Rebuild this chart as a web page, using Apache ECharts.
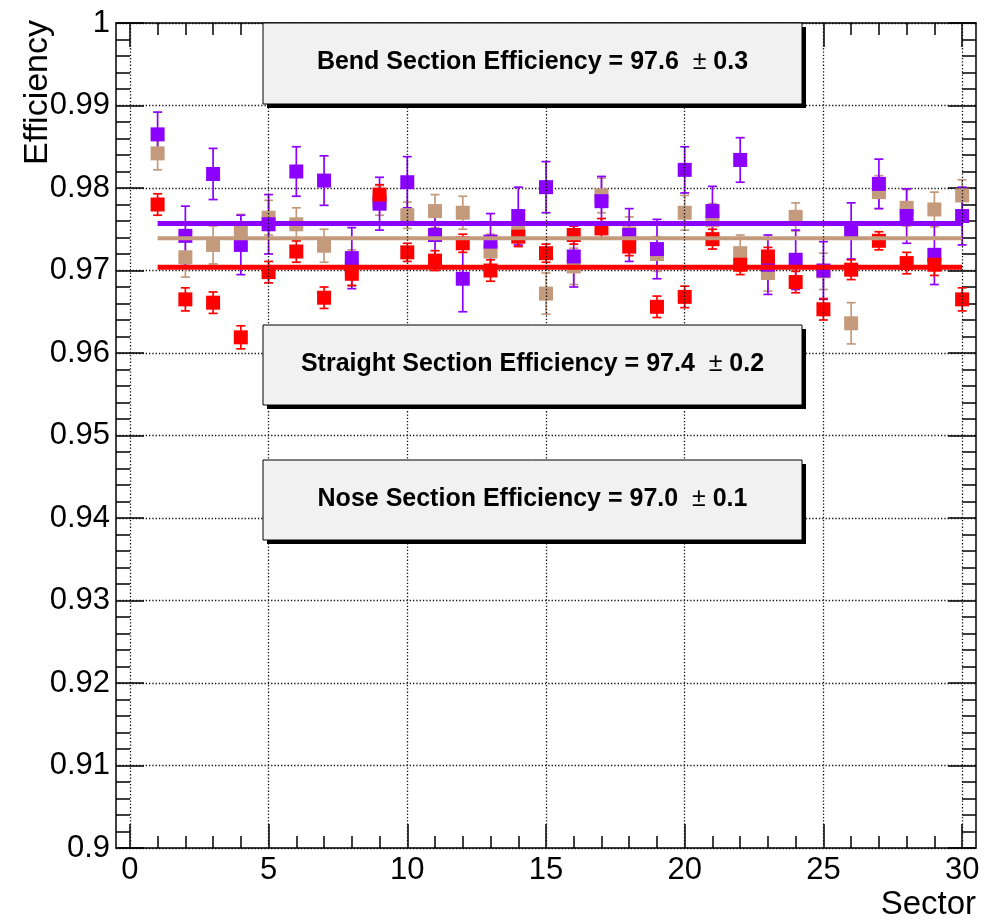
<!DOCTYPE html>
<html>
<head>
<meta charset="utf-8">
<script src="https://cdn.jsdelivr.net/npm/echarts@6/dist/echarts.min.js"></script>
<style>html,body{margin:0;padding:0;background:#fff;}#c{width:987px;height:922px;}</style>
</head>
<body>
<div id="c"></div>
<script>
const sectors = [1,2,3,4,5,6,7,8,9,10,11,12,13,14,15,16,17,18,19,20,21,22,23,24,25,26,27,28,29,30];
const bendEff = [0.9865,0.9742,0.9817,0.9731,0.9756,0.9820,0.9809,0.9715,0.9781,0.9807,0.9743,0.9690,0.9735,0.9766,0.9801,0.9717,0.9784,0.9743,0.9726,0.9822,0.9772,0.9834,0.9707,0.9713,0.9700,0.9748,0.9805,0.9766,0.9719,0.9766];
const bendErr = [0.0027,0.0036,0.0031,0.0036,0.0036,0.0030,0.0030,0.0037,0.0032,0.0031,0.0033,0.0040,0.0034,0.0035,0.0031,0.0037,0.0030,0.0032,0.0036,0.0028,0.0030,0.0027,0.0036,0.0036,0.0035,0.0034,0.0030,0.0033,0.0036,0.0035];
const straightEff = [0.9842,0.9716,0.9731,0.9746,0.9764,0.9756,0.9730,0.9703,0.9785,0.9767,0.9772,0.9770,0.9723,0.9750,0.9672,0.9705,0.9791,0.9745,0.9720,0.9770,0.9761,0.9721,0.9697,0.9765,0.9699,0.9636,0.9795,0.9776,0.9774,0.9791];
const straightErr = [0.0020,0.0024,0.0023,0.0022,0.0021,0.0020,0.0020,0.0022,0.0018,0.0016,0.0020,0.0020,0.0021,0.0020,0.0025,0.0022,0.0021,0.0020,0.0021,0.0021,0.0020,0.0022,0.0022,0.0017,0.0022,0.0025,0.0020,0.0022,0.0021,0.0019];
const noseEff = [0.9780,0.9665,0.9661,0.9619,0.9698,0.9723,0.9667,0.9696,0.9792,0.9722,0.9712,0.9733,0.9700,0.9741,0.9721,0.9743,0.9751,0.9729,0.9656,0.9668,0.9738,0.9707,0.9717,0.9686,0.9653,0.9701,0.9736,0.9709,0.9707,0.9665];
const noseErr = [0.0013,0.0014,0.0013,0.0014,0.0013,0.0013,0.0013,0.0014,0.0012,0.0011,0.0012,0.0011,0.0013,0.0012,0.0011,0.0011,0.0012,0.0011,0.0013,0.0013,0.0012,0.0012,0.0011,0.0013,0.0013,0.0012,0.0011,0.0013,0.0013,0.0014];
const fitRange = [1, 30];
const bendFit = 0.9757;
const straightFit = 0.9739;
const noseFit = 0.9704;
const xMajorTicks = [0,5,10,15,20,25,30];
const xMinorTicks = [1,2,3,4,6,7,8,9,11,12,13,14,16,17,18,19,21,22,23,24,26,27,28,29];
const boxTexts = [
  ['Bend Section Efficiency = 97.6', '0.3'],
  ['Straight Section Efficiency = 97.4', '0.2'],
  ['Nose Section Efficiency = 97.0', '0.1']
];

const FONT = 'Liberation Sans, Arial, Helvetica, sans-serif';
const cBend = '#8c00ff', cStraight = '#c49a7c', cNose = '#ff0000';

function errSeries(vals, errs, color) {
  return {
    type: 'custom',
    xAxisIndex: 0, yAxisIndex: 0,
    data: sectors.map((s, i) => [s, vals[i], errs[i]]),
    renderItem: function (params, api) {
      const x = api.value(0), v = api.value(1), e = api.value(2);
      const top = api.coord([x, v + e]);
      const bot = api.coord([x, v - e]);
      const hw = 4.5;
      const st = { stroke: color, lineWidth: 1.7 };
      return { type: 'group', children: [
        { type: 'line', shape: { x1: top[0], y1: top[1], x2: bot[0], y2: bot[1] }, style: st },
        { type: 'line', shape: { x1: top[0] - hw, y1: top[1], x2: top[0] + hw, y2: top[1] }, style: st },
        { type: 'line', shape: { x1: bot[0] - hw, y1: bot[1], x2: bot[0] + hw, y2: bot[1] }, style: st }
      ]};
    },
    silent: true
  };
}
function ptSeries(vals, color) {
  return {
    type: 'scatter', xAxisIndex: 0, yAxisIndex: 0,
    data: sectors.map((s, i) => [s, vals[i]]),
    symbol: 'rect', symbolSize: 14,
    itemStyle: { color: color, opacity: 1 }, silent: true
  };
}
function fitSeries(v, color, w) {
  return {
    type: 'line', xAxisIndex: 0, yAxisIndex: 0,
    data: fitRange.map(x => [x, v]), symbol: 'none',
    lineStyle: { color: color, width: w }, silent: true
  };
}

const gridLineStyle = { color: '#111', width: 1.3, type: [1.3, 2] };

const series = [
  {
    type: 'line', xAxisIndex: 0, yAxisIndex: 0, data: [], silent: true,
    markLine: {
      silent: true, symbol: 'none', label: { show: false },
      lineStyle: gridLineStyle,
      data: xMajorTicks.map(v => ({ xAxis: v }))
    }
  },
  errSeries(straightEff, straightErr, cStraight),
  ptSeries(straightEff, cStraight),
  fitSeries(straightFit, cStraight, 4),
  errSeries(bendEff, bendErr, cBend),
  ptSeries(bendEff, cBend),
  fitSeries(bendFit, cBend, 5),
  errSeries(noseEff, noseErr, cNose),
  ptSeries(noseEff, cNose),
  fitSeries(noseFit, cNose, 5)
];

const axisLineStyle = { color: '#000', width: 1.5 };
const baseX = { type: 'value', min: -0.5, max: 30.5, gridIndex: 0, splitLine: { show: false } };

const boxes = [[23, 104], [325, 405], [460, 540]];
const graphics = [];
boxes.forEach((b, i) => {
  const x1 = 263, x2 = 802;
  graphics.push({ type: 'rect', shape: { x: x1 + 4, y: b[0] + 4, width: x2 - x1, height: b[1] - b[0] }, style: { fill: '#000' }, z: 100 });
  graphics.push({ type: 'rect', shape: { x: x1, y: b[0], width: x2 - x1, height: b[1] - b[0] }, style: { fill: '#f1f1f1', stroke: '#000', lineWidth: 1 }, z: 101 });
  graphics.push({ type: 'text', x: (x1 + x2) / 2, y: (b[0] + b[1]) / 2 - 1, z: 102,
    style: { text: '{b|' + boxTexts[i][0] + '  }{n|±}{b| ' + boxTexts[i][1] + '}', align: 'center', verticalAlign: 'middle',
      rich: { b: { fontFamily: FONT, fontWeight: 'bold', fontSize: 25, fill: '#000' }, n: { fontFamily: FONT, fontWeight: 'normal', fontSize: 25, fill: '#000' } } } });
});
graphics.push({ type: 'text', x: 38, y: 20, rotation: Math.PI / 2, z: 102,
  style: { text: 'Efficiency', fontFamily: FONT, fontSize: 34, fill: '#000', align: 'right', verticalAlign: 'middle' } });
graphics.push({ type: 'text', x: 976, y: 905, z: 102,
  style: { text: 'Sector', fontFamily: FONT, fontSize: 33, fill: '#000', align: 'right', verticalAlign: 'middle' } });

const option = {
  animation: false,
  backgroundColor: '#fff',
  grid: { left: 116, right: 11, top: 23, bottom: 74, containLabel: false },
  xAxis: [
    Object.assign({}, baseX, {
      position: 'bottom',
      axisLine: { show: true, onZero: false, lineStyle: axisLineStyle },
      axisTick: { show: true, inside: true, length: 24, customValues: xMajorTicks, lineStyle: { color: '#000', width: 1.5 } },
      axisLabel: { show: true, customValues: xMajorTicks, fontFamily: FONT, fontSize: 31, color: '#000', margin: 7 }
    }),
    Object.assign({}, baseX, {
      position: 'bottom',
      axisLine: { show: false, onZero: false },
      axisTick: { show: true, inside: true, length: 12, customValues: xMinorTicks, lineStyle: { color: '#000', width: 1.5 } },
      axisLabel: { show: false }
    }),
    Object.assign({}, baseX, {
      position: 'top',
      axisLine: { show: true, onZero: false, lineStyle: axisLineStyle },
      axisTick: { show: true, inside: true, length: 24, customValues: xMajorTicks, lineStyle: { color: '#000', width: 1.5 } },
      axisLabel: { show: false }
    }),
    Object.assign({}, baseX, {
      position: 'top',
      axisLine: { show: false, onZero: false },
      axisTick: { show: true, inside: true, length: 12, customValues: xMinorTicks, lineStyle: { color: '#000', width: 1.5 } },
      axisLabel: { show: false }
    })
  ],
  yAxis: [
    {
      type: 'value', min: 0.9, max: 1.0, interval: 0.01, position: 'left',
      axisLine: { show: true, onZero: false, lineStyle: axisLineStyle },
      axisTick: { show: true, inside: true, length: 28, lineStyle: { color: '#000', width: 1.5 } },
      minorTick: { show: true, splitNumber: 5, length: 14, lineStyle: { color: '#000', width: 1.5 } },
      axisLabel: { show: true, fontFamily: FONT, fontSize: 31, color: '#000', margin: 6, showMinLabel: true, showMaxLabel: true },
      splitLine: { show: true, lineStyle: gridLineStyle }
    },
    {
      type: 'value', min: 0.9, max: 1.0, interval: 0.01, position: 'right',
      axisLine: { show: true, onZero: false, lineStyle: axisLineStyle },
      axisTick: { show: true, inside: true, length: 28, lineStyle: { color: '#000', width: 1.5 } },
      minorTick: { show: true, splitNumber: 5, length: 14, lineStyle: { color: '#000', width: 1.5 } },
      axisLabel: { show: false },
      splitLine: { show: false }
    }
  ],
  series: series,
  graphic: graphics
};

const chart = echarts.init(document.getElementById('c'), null, { renderer: 'canvas' });
chart.setOption(option);
</script>
</body>
</html>
